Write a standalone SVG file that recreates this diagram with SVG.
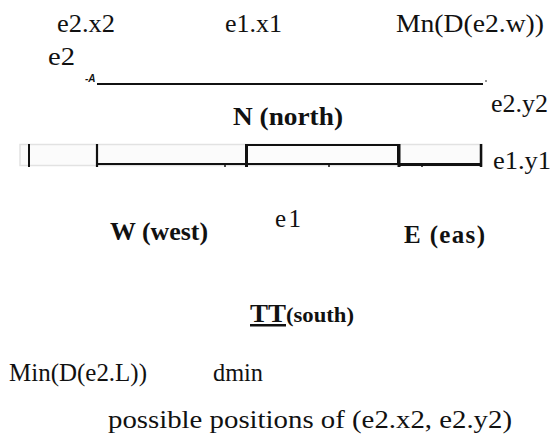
<svg xmlns="http://www.w3.org/2000/svg" width="553" height="434" viewBox="0 0 553 434" font-family="'Liberation Serif', 'DejaVu Serif', serif">
<style>
.t{font-family:'Liberation Serif','DejaVu Serif',serif;font-size:25px;fill:#111}
.b{font-weight:bold}
.k{stroke:#111;fill:none}
</style>
<rect width="553" height="434" fill="#fff"/>
<g id="labels-top">
<text class="t" x="57" y="32" textLength="58" lengthAdjust="spacingAndGlyphs">e2.x2</text>
<text class="t" x="225" y="32" textLength="57" lengthAdjust="spacingAndGlyphs">e1.x1</text>
<text class="t" x="396" y="32" textLength="148" lengthAdjust="spacingAndGlyphs">Mn(D(e2.w))</text>
<text class="t" x="48" y="65" textLength="27" lengthAdjust="spacingAndGlyphs">e2</text>
</g>
<g id="e2-line">
<text x="85" y="82" font-family="'Liberation Sans', Arial, sans-serif" font-size="10" font-weight="bold" font-style="italic" fill="#111">-A</text>
<line class="k" x1="97" y1="84" x2="483" y2="84" stroke-width="2"/>
<circle cx="486" cy="81" r="0.8" fill="#111"/>
<text class="t" x="491" y="112" textLength="57" lengthAdjust="spacingAndGlyphs">e2.y2</text>
</g>
<g id="north">
<text class="t b" x="233" y="125" textLength="110" lengthAdjust="spacingAndGlyphs">N (north)</text>
</g>
<g id="bar">
<rect x="20" y="144.5" width="462" height="21" fill="#fbfbfb" stroke="#e2e2e2" stroke-width="1.5"/>
<line class="k" x1="29" y1="144" x2="29" y2="167" stroke-width="2"/>
<line class="k" x1="97" y1="144" x2="97" y2="167" stroke-width="2.2"/>
<line class="k" x1="97" y1="164" x2="246" y2="164" stroke-width="2.2"/>
<line class="k" x1="225" y1="164" x2="225" y2="167" stroke-width="1.5"/>
<rect x="247" y="145" width="151" height="19" fill="#fcfcfc" stroke="#111" stroke-width="2"/>
<line class="k" x1="246.5" y1="144" x2="246.5" y2="167" stroke-width="3"/>
<line class="k" x1="399" y1="144" x2="399" y2="167" stroke-width="3"/>
<line class="k" x1="329" y1="164" x2="329" y2="167" stroke-width="1.5"/>
<line class="k" x1="399" y1="164.5" x2="482" y2="164.5" stroke-width="3"/>
<line class="k" x1="422" y1="164" x2="422" y2="167" stroke-width="1.5"/>
<line class="k" x1="481" y1="144" x2="481" y2="167" stroke-width="2.5"/>
<text class="t" x="493" y="169" textLength="58" lengthAdjust="spacingAndGlyphs">e1.y1</text>
</g>
<g id="west"><text class="t b" x="110" y="240" textLength="98" lengthAdjust="spacingAndGlyphs">W (west)</text></g>
<g id="e1"><text class="t" x="275" y="227" textLength="26" lengthAdjust="spacing">e1</text></g>
<g id="east"><text class="t b" x="404" y="243" textLength="81" lengthAdjust="spacing">E (eas)</text></g>
<g id="south">
<text class="t b" x="250" y="322" textLength="104" lengthAdjust="spacingAndGlyphs"><tspan text-decoration="underline">TT</tspan><tspan font-size="21">(south)</tspan></text>
</g>
<g id="labels-bottom">
<text class="t" x="9" y="381" textLength="138" lengthAdjust="spacingAndGlyphs">Min(D(e2.L))</text>
<text class="t" x="213" y="381" textLength="50" lengthAdjust="spacingAndGlyphs">dmin</text>
<text class="t" x="108" y="428" textLength="404" lengthAdjust="spacingAndGlyphs">possible positions of (e2.x2, e2.y2)</text>
</g>
</svg>
